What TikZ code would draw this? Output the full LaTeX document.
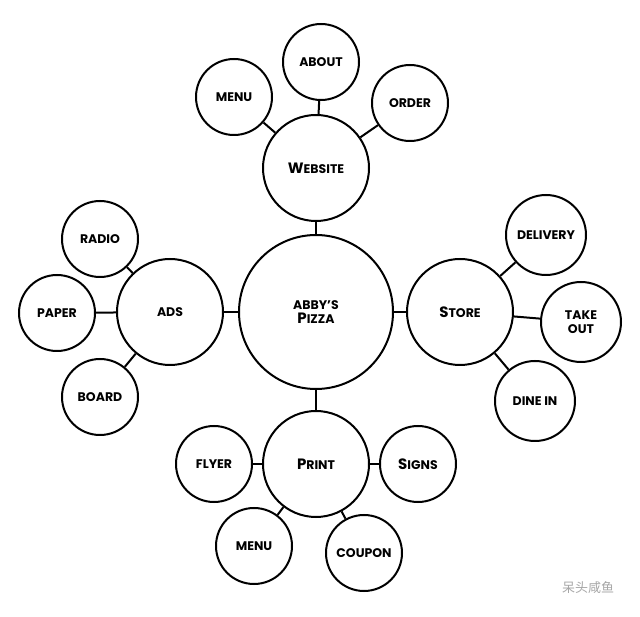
\documentclass[tikz,border=0pt]{standalone}
\usepackage{fontspec}
\setmainfont{Poppins}
\newfontfamily\cjk{Noto Sans CJK SC}
\usetikzlibrary{shapes,arrows}
\tikzstyle{bubble} = [draw, circle, fill=white, line width=2pt, inner sep=0pt, align=center, font=\bfseries\fontsize{12.5}{13.5}\selectfont]
\tikzstyle{core} = [bubble, minimum size=154pt]
\tikzstyle{hub} = [bubble, minimum size=106pt]
\tikzstyle{leaf} = [bubble, minimum size=76pt]
\newcommand{\initcap}[2]{{\fontsize{15}{15}\selectfont #1}#2}

\begin{document}
\begin{tikzpicture}[x=1pt,y=1pt,line width=2pt,node distance=145pt]
\useasboundingbox (0,0) rectangle (640,616);

\node[core] (pizza) at (316,304) {ABBY'S\\\initcap{P}{IZZA}};
\node[hub, above of = pizza, node distance=144pt] (website) {\initcap{W}{EBSITE}};
\node[hub, left of = pizza, node distance=146pt] (ads) {ADS};
\node[hub, right of = pizza, node distance=144pt] (store) {\initcap{S}{TORE}};
\node[hub, below of = pizza, node distance=152pt] (print) {\initcap{P}{RINT}};

\node[leaf] (about) at ([shift={(5,106)}]website.center) {ABOUT};
\node[leaf] (menutop) at ([shift={(-82,71)}]website.center) {MENU};
\node[leaf] (order) at ([shift={(94,65)}]website.center) {ORDER};

\node[leaf] (radio) at ([shift={(-70,73)}]ads.center) {RADIO};
\node[leaf] (paper) at ([shift={(-113,-1)}]ads.center) {PAPER};
\node[leaf] (board) at ([shift={(-70,-85)}]ads.center) {BOARD};

\node[leaf, minimum size=80pt] (delivery) at ([shift={(86,77)}]store.center) {DELIVERY};
\node[leaf, minimum size=80pt] (takeout) at ([shift={(121,-10)}]store.center) {TAKE\\OUT};
\node[leaf, minimum size=80pt] (dinein) at ([shift={(75,-89)}]store.center) {DINE IN};

\node[leaf] (flyer) at ([shift={(-102,0)}]print.center) {FLYER};
\node[leaf] (signs) at ([shift={(102,0)}]print.center) {\initcap{S}{IGNS}};
\node[leaf] (menubot) at ([shift={(-62,-82)}]print.center) {MENU};
\node[leaf] (coupon) at ([shift={(48,-89)}]print.center) {COUPON};

\node[text=gray!70, font=\cjk\fontsize{13}{14}\selectfont] (mark) at (588,28) {呆头咸鱼};

\path
(pizza) edge (website)
(pizza) edge (ads)
(pizza) edge (store)
(pizza) edge (print)
(website) edge (about)
(website) edge (menutop)
(website) edge (order)
(ads) edge (radio)
(ads) edge (paper)
(ads) edge (board)
(store) edge (delivery)
(store) edge (takeout)
(store) edge (dinein)
(print) edge (flyer)
(print) edge (signs)
(print) edge (menubot)
(print) edge (coupon);

\end{tikzpicture}
\end{document}
